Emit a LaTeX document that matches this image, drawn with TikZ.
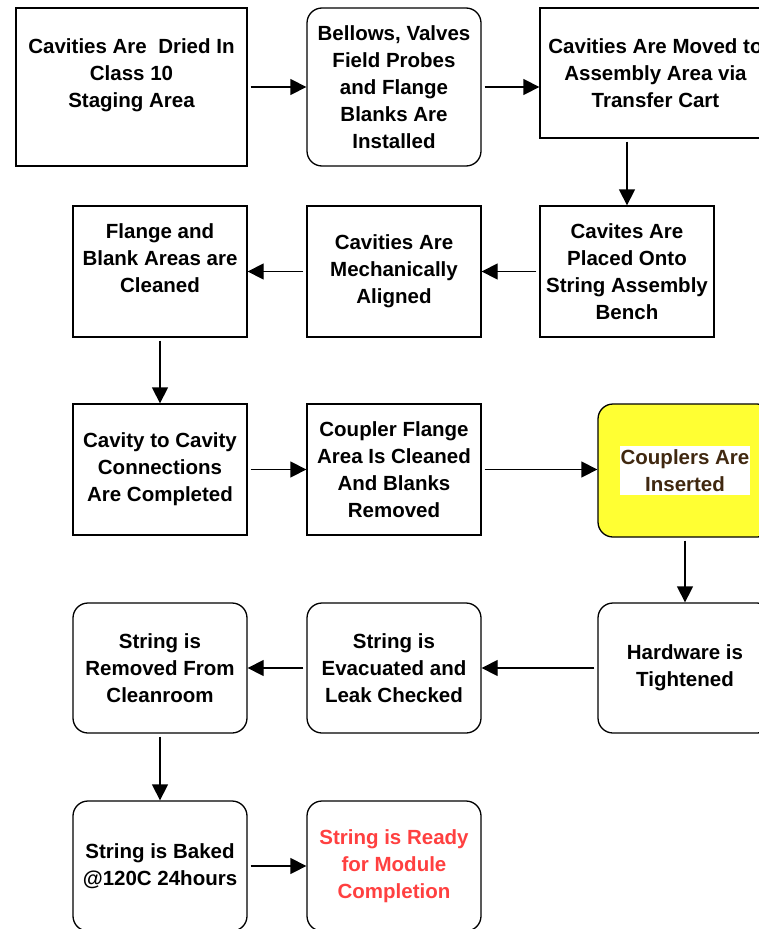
\documentclass[tikz,border=0pt]{standalone}
\usepackage{fontspec}
\setmainfont{Liberation Sans}
\usetikzlibrary{arrows.meta}
\definecolor{cplyellow}{RGB}{255,255,51}
\definecolor{cplbrown}{RGB}{64,40,16}
\definecolor{readyred}{RGB}{255,64,64}

\tikzset{
  steptext/.style={align=center, font=\fontsize{20.5}{27}\selectfont\bfseries},
  stepbox/.style={steptext, draw, line width=1.3pt, minimum width=174pt,
    minimum height=131pt, inner sep=0pt},
  roundbox/.style={stepbox, rounded corners=15pt},
  flow/.style={line width=1.3pt, -{Triangle[length=16pt,width=16pt]}, shorten <=3pt},
}

\begin{document}
\begin{tikzpicture}[x=1pt,y=-1pt]
  \useasboundingbox (0,0) rectangle (759,929);
  \clip (0,0) rectangle (759,929);

  \node[stepbox, minimum width=231pt, minimum height=158pt] (dried) at (131.5,87)
    {Cavities Are\ \ Dried In\\Class 10\\Staging Area\\\mbox{}};
  \node[roundbox, minimum height=158pt] (bellows) at (394,87)
    {Bellows, Valves\\Field Probes\\and Flange\\Blanks Are\\Installed};
  \node[stepbox, minimum width=231pt, minimum height=130pt] (moved) at (655.5,73)
    {Cavities Are Moved to\\Assembly Area via\\Transfer Cart};

  \node[stepbox] (placed) at (627,271.5)
    {Cavites Are\\Placed Onto\\String Assembly\\Bench};
  \node[stepbox] (aligned) at (394,271.5)
    {Cavities Are\\Mechanically\\Aligned};
  \node[stepbox] (flange) at (160,271.5)
    {Flange and\\Blank Areas are\\Cleaned\\\mbox{}};

  \node[stepbox] (connect) at (160,469.5)
    {Cavity to Cavity\\Connections\\Are Completed};
  \node[stepbox] (coupler) at (394,469.5)
    {Coupler Flange\\Area Is Cleaned\\And Blanks\\Removed};
  \node[roundbox, fill=cplyellow, minimum height=133pt] (insert) at (685,470.5) {};
  \node[steptext, fill=white, inner xsep=1pt, inner ysep=3pt, text=cplbrown]
    (inserttxt) at (insert) {Couplers Are\\Inserted};

  \node[roundbox, minimum height=130pt] (tighten) at (685,668)
    {Hardware is\\Tightened};
  \node[roundbox, minimum height=130pt] (evacuate) at (394,668)
    {String is\\Evacuated and\\Leak Checked};
  \node[roundbox, minimum height=130pt] (removed) at (160,668)
    {String is\\Removed From\\Cleanroom};

  \node[roundbox, minimum height=130pt] (baked) at (160,866)
    {String is Baked\\@120C 24hours};
  \node[roundbox, minimum height=130pt, text=readyred] (ready) at (394,866)
    {String is Ready\\for Module\\Completion};

  \draw[flow] (dried) -- (bellows);
  \draw[flow] (bellows) -- (bellows -| moved.west);
  \draw[flow] (moved.south -| placed) -- (placed);
  \draw[flow] (placed) -- (aligned);
  \draw[flow] (aligned) -- (flange);
  \draw[flow] (flange) -- (connect);
  \draw[flow] (connect) -- (coupler);
  \draw[flow] (coupler) -- (coupler -| insert.west);
  \draw[flow] (insert) -- (tighten);
  \draw[flow] (tighten) -- (evacuate);
  \draw[flow] (evacuate) -- (removed);
  \draw[flow] (removed) -- (baked);
  \draw[flow] (baked) -- (ready);
\end{tikzpicture}
\end{document}
